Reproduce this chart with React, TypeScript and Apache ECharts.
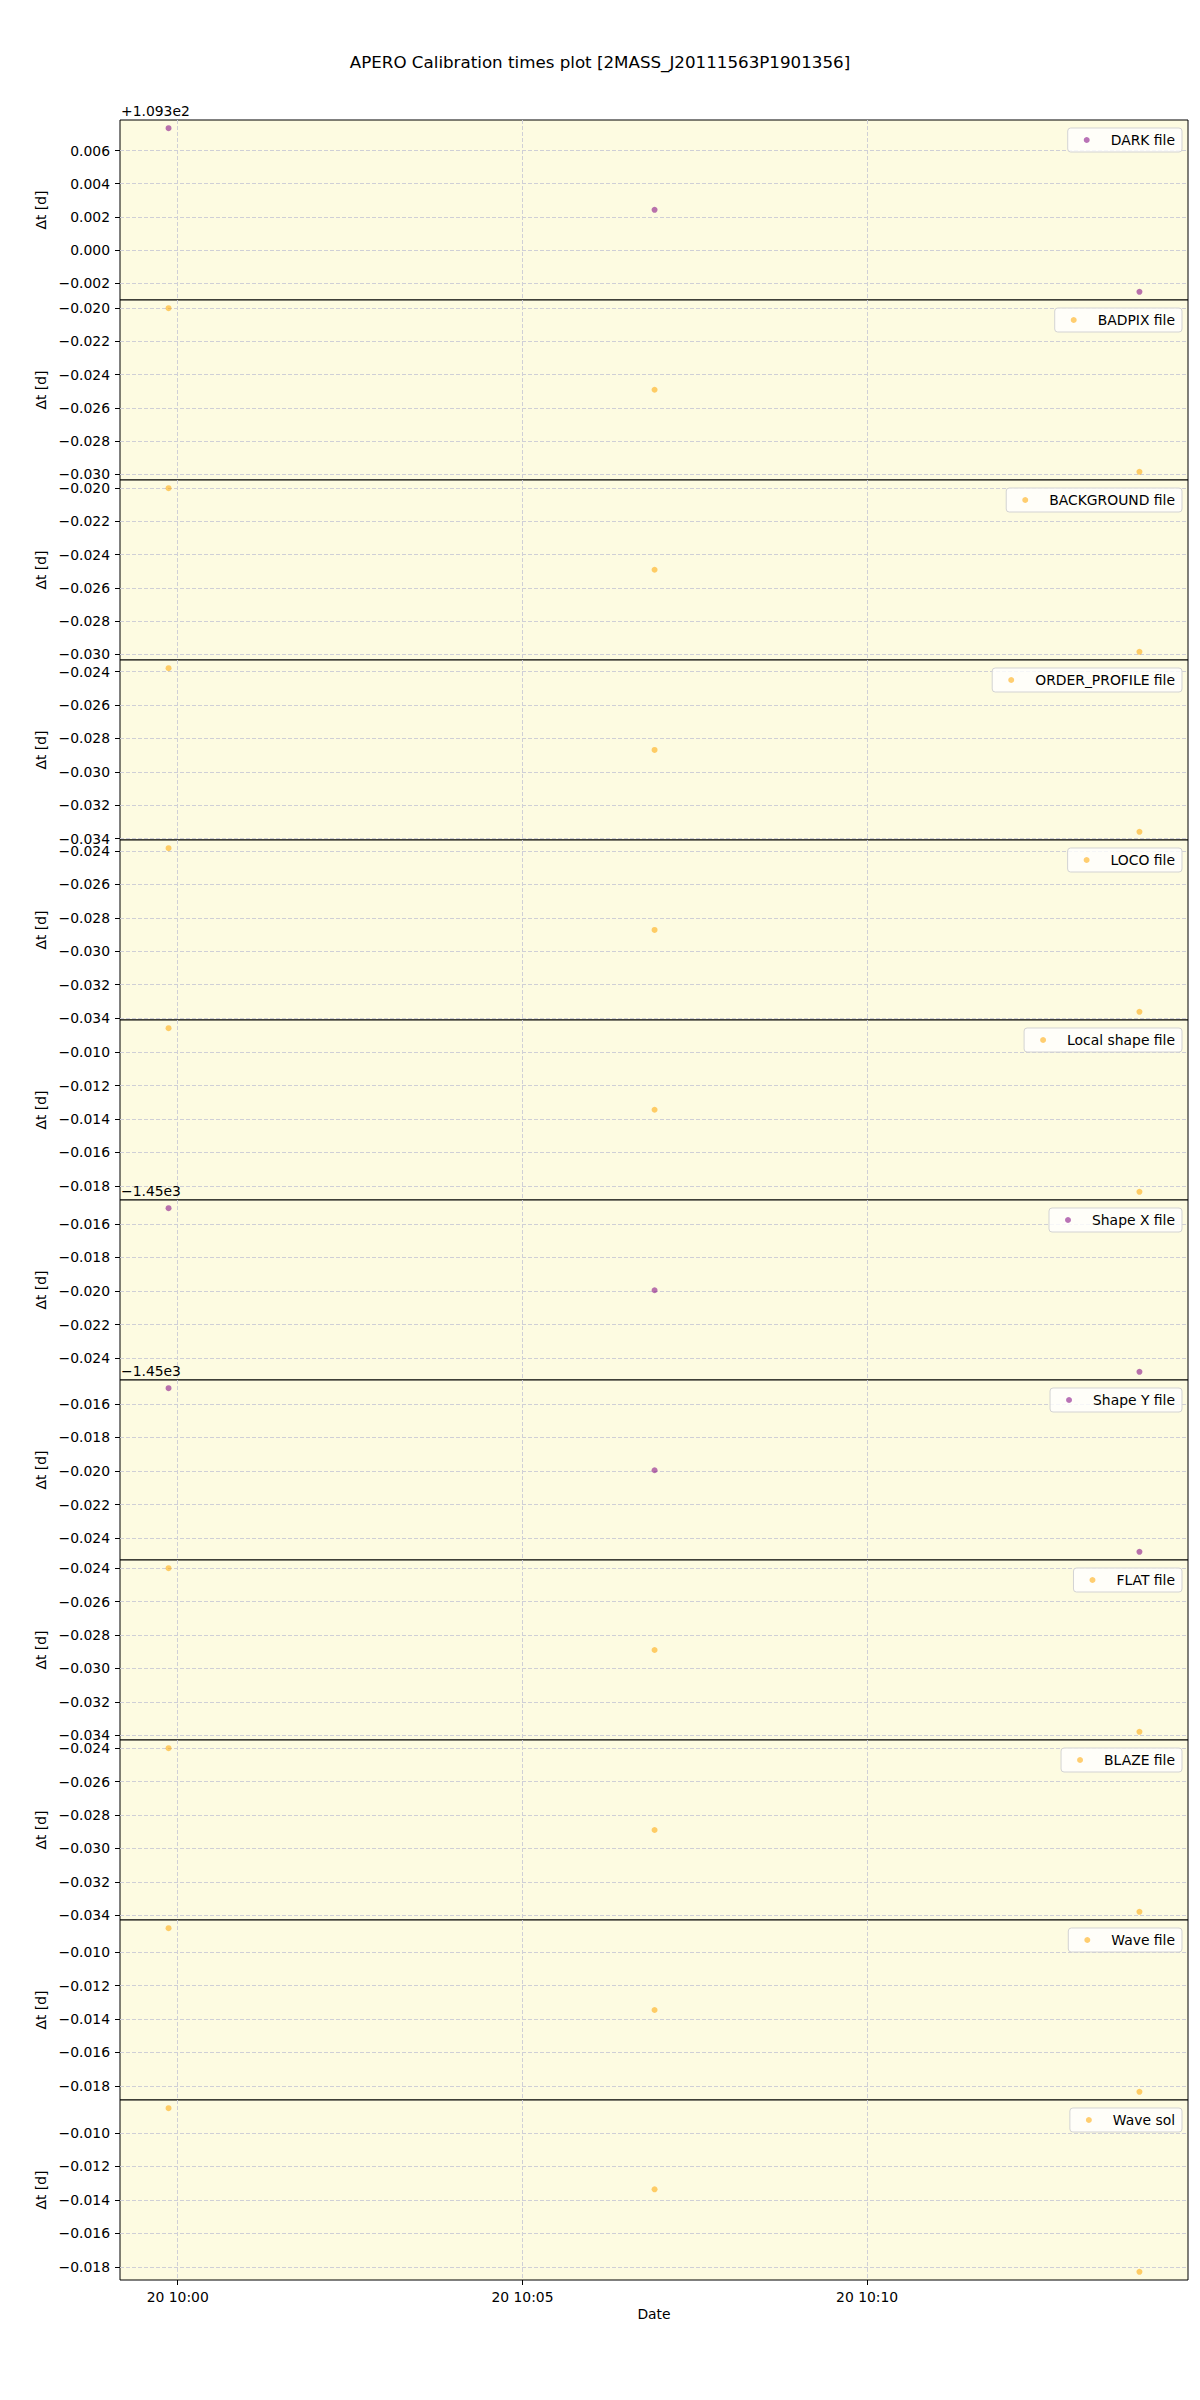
import React, { useEffect, useRef } from 'react';
import * as echarts from 'echarts';

const TITLE = 'APERO Calibration times plot [2MASS_J20111563P1901356]';

// observation times (x values)
const obsTimes = ['2020-10-20T09:59:52Z', '2020-10-20T10:06:55Z', '2020-10-20T10:13:57Z'];
// x tick positions
const xTickTimes = ['2020-10-20T10:00:00Z', '2020-10-20T10:05:00Z', '2020-10-20T10:10:00Z'];

const fileNames = [
  'DARK file', 'BADPIX file', 'BACKGROUND file', 'ORDER_PROFILE file', 'LOCO file',
  'Local shape file', 'Shape X file', 'Shape Y file', 'FLAT file', 'BLAZE file',
  'Wave file', 'Wave sol',
];

// Δt [d] values per calibration file
const darkDt = [109.30735, 109.30242, 109.29747];
const badpixDt = [-0.02000, -0.02491, -0.02985];
const backgroundDt = [-0.02000, -0.02491, -0.02985];
const orderProfileDt = [-0.02380, -0.02869, -0.03359];
const locoDt = [-0.02383, -0.02872, -0.03362];
const localShapeDt = [-0.00857, -0.01345, -0.01836];
const shapeXDt = [-1450.01507, -1450.01995, -1450.02480];
const shapeYDt = [-1450.01507, -1450.01995, -1450.02480];
const flatDt = [-0.02400, -0.02890, -0.03380];
const blazeDt = [-0.02400, -0.02890, -0.03380];
const waveFileDt = [-0.00856, -0.01346, -0.01836];
const waveSolDt = [-0.00853, -0.01337, -0.01829];

const dtSeries = [
  darkDt, badpixDt, backgroundDt, orderProfileDt, locoDt, localShapeDt,
  shapeXDt, shapeYDt, flatDt, blazeDt, waveFileDt, waveSolDt,
];

// y tick offsets (matplotlib offset text) and step
const yOffsets = [109.3, 0, 0, 0, 0, 0, -1450, -1450, 0, 0, 0, 0];
const yOffsetLabels = ['+1.093e2', '', '', '', '', '', '\u22121.45e3', '\u22121.45e3', '', '', '', ''];
const yTickStep = 0.002;

// marker colour kind per panel
const markerKinds = ['purple', 'orange', 'orange', 'orange', 'orange', 'orange', 'purple', 'purple', 'orange', 'orange', 'orange', 'orange'];

const COLORS: Record<string, string> = { purple: '#800080', orange: '#ffa500' };
const FONT = 'DejaVu Sans';
const PANEL_TOP = 120;
const PANEL_H = 180;
const PANEL_LEFT = 120;
const PANEL_W = 1068;
const GRID_COLOR = '#cfcfd6';

function minus(s: string) {
  return s.replace('-', '\u2212');
}

function pad2(n: number) {
  return n < 10 ? '0' + n : '' + n;
}

export default function App() {
  const ref = useRef<HTMLDivElement>(null);

  useEffect(() => {
    if (!ref.current) return;
    const chart = echarts.init(ref.current, undefined, { renderer: 'svg' });

    const xs = obsTimes.map((t) => Date.parse(t));
    const xLo = Math.min(...xs);
    const xHi = Math.max(...xs);
    const xR = xHi - xLo;
    const xMin = xLo - 0.05 * xR;
    const xMax = xHi + 0.05 * xR;
    const xTicks = xTickTimes.map((t) => Date.parse(t));
    const n = fileNames.length;

    const grids: any[] = [];
    const xAxes: any[] = [];
    const yAxes: any[] = [];
    const series: any[] = [];
    const legends: any[] = [];
    const graphics: any[] = [];

    for (let i = 0; i < n; i++) {
      const top = PANEL_TOP + PANEL_H * i;
      const vals = dtSeries[i];
      const lo = Math.min(...vals);
      const hi = Math.max(...vals);
      const R = hi - lo;
      const yMin = lo - 0.05 * R;
      const yMax = hi + 0.05 * R;
      const off = yOffsets[i];
      const k0 = Math.ceil((yMin - off) / yTickStep - 1e-9);
      const k1 = Math.floor((yMax - off) / yTickStep + 1e-9);
      const yTicks: number[] = [];
      for (let k = k0; k <= k1; k++) yTicks.push(off + k * yTickStep);
      const last = i === n - 1;

      grids.push({
        left: PANEL_LEFT,
        top,
        width: PANEL_W,
        height: PANEL_H,
        show: true,
        backgroundColor: '#fdfbe1',
        borderColor: '#000',
        borderWidth: 1,
        z: 0,
      });

      xAxes.push({
        type: 'value',
        gridIndex: i,
        min: xMin,
        max: xMax,
        axisLine: { show: false },
        axisTick: {
          show: last,
          customValues: xTicks,
          length: 5,
          lineStyle: { color: '#000', width: 1 },
        },
        axisLabel: {
          show: last,
          customValues: xTicks,
          margin: 10,
          fontSize: 13.9,
          fontFamily: FONT,
          color: '#000',
          formatter: (v: number) => {
            const d = new Date(v);
            return pad2(d.getUTCDate()) + ' ' + pad2(d.getUTCHours()) + ':' + pad2(d.getUTCMinutes());
          },
        },
        splitLine: { show: true, lineStyle: { color: GRID_COLOR, type: [4, 2], width: 1 } },
        name: last ? 'Date' : '',
        nameLocation: 'middle',
        nameGap: 27,
        nameTextStyle: { fontSize: 13.9, fontFamily: FONT, color: '#000' },
      });

      yAxes.push({
        type: 'value',
        gridIndex: i,
        min: yMin,
        max: yMax,
        axisLine: { show: false },
        axisTick: {
          show: true,
          customValues: yTicks,
          length: 5,
          lineStyle: { color: '#000', width: 1 },
        },
        axisLabel: {
          customValues: yTicks,
          margin: 10,
          fontSize: 13.9,
          fontFamily: FONT,
          color: '#000',
          formatter: (v: number) => {
            let rel = Math.round((v - off) / yTickStep) * yTickStep;
            if (Math.abs(rel) < 1e-12) rel = 0;
            return minus(rel.toFixed(3));
          },
        },
        splitLine: { show: true, lineStyle: { color: GRID_COLOR, type: [4, 2], width: 1 } },
        name: '\u0394t [d]',
        nameLocation: 'middle',
        nameGap: 68,
        nameRotate: 90,
        nameTextStyle: { fontSize: 13.9, fontFamily: FONT, color: '#000' },
      });

      series.push({
        type: 'scatter',
        name: fileNames[i],
        xAxisIndex: i,
        yAxisIndex: i,
        symbol: 'circle',
        symbolSize: 6,
        itemStyle: { color: COLORS[markerKinds[i]], opacity: 0.55 },
        data: xs.map((x, j) => [x, vals[j]]),
        z: 3,
      });

      legends.push({
        data: [fileNames[i]],
        right: 18,
        top: top + 8,
        orient: 'vertical',
        icon: 'circle',
        itemWidth: 38,
        itemHeight: 6,
        selectedMode: false,
        backgroundColor: 'rgba(255,255,255,0.8)',
        borderColor: '#d3d3d3',
        borderWidth: 1,
        borderRadius: 3,
        padding: [4, 7, 4, 16],
        textStyle: { fontSize: 13.9, fontFamily: FONT, color: '#000', lineHeight: 16 },
      });

      if (yOffsetLabels[i]) {
        graphics.push({
          type: 'text',
          left: PANEL_LEFT + 1,
          top: top - 16,
          z: 10,
          style: { text: yOffsetLabels[i], fontSize: 13.9, fontFamily: FONT, fill: '#000' },
        });
      }
    }

    chart.setOption({
      animation: false,
      backgroundColor: '#fff',
      title: {
        text: TITLE,
        left: 'center',
        top: 48,
        textStyle: { fontSize: 16.7, fontWeight: 'normal', fontFamily: FONT, color: '#000' },
      },
      grid: grids,
      xAxis: xAxes,
      yAxis: yAxes,
      series,
      legend: legends,
      graphic: graphics,
    });

    return () => chart.dispose();
  }, []);

  return (
    <div
      ref={ref}
      style={{ position: 'absolute', left: 0, top: 0, width: 1200, height: 2400 }}
    />
  );
}
